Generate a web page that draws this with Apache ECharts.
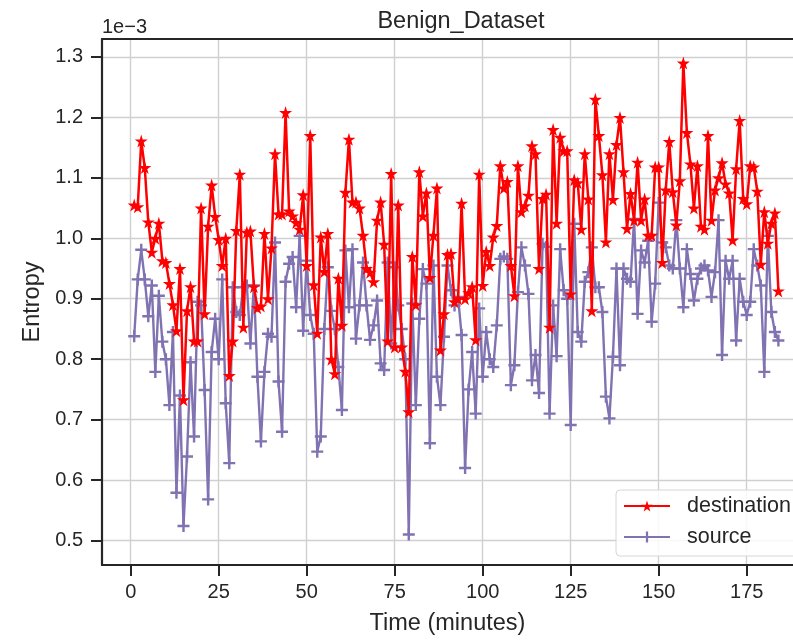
<!DOCTYPE html>
<html>
<head>
<meta charset="utf-8">
<script src="https://cdn.jsdelivr.net/npm/echarts@6/dist/echarts.min.js"></script>
<style>
  html, body { margin: 0; padding: 0; background: #fff; }
  #chart { width: 793px; height: 641px; }
</style>
</head>
<body>
<div id="chart"></div>
<script>
// entropy values, unit 1e-3, one per minute
const destination = [
  1.055, 1.052, 1.161, 1.117, 1.027, 0.977, 1.000, 1.025, 0.963, 0.960,
  0.925, 0.890, 0.847, 0.950, 0.733, 0.880, 0.920, 0.830, 0.830, 1.050,
  0.875, 1.020, 1.088, 1.036, 0.998, 0.955, 1.000, 0.773, 0.830, 1.013,
  1.106, 0.853, 1.010, 1.012, 0.920, 0.885, 0.888, 1.008, 0.900, 0.984,
  1.140, 1.040, 1.040, 1.208, 1.045, 1.037, 1.026, 1.015, 1.072, 0.955,
  1.170, 0.923, 0.843, 1.002, 0.945, 1.008, 0.800, 0.776, 0.934, 0.856,
  1.076, 1.164, 1.060, 1.060, 1.050, 1.005, 0.950, 0.944, 0.928, 1.030,
  1.060, 0.990, 0.830, 1.107, 0.820, 1.055, 0.820, 0.780, 0.713, 0.970,
  0.890, 1.110, 1.037, 1.075, 0.935, 1.005, 1.083, 0.815, 0.875, 0.973,
  0.975, 0.895, 0.900, 1.058, 0.900, 0.910, 0.920, 0.832, 1.106, 0.922,
  0.978, 0.955, 1.002, 1.021, 1.120, 1.083, 1.094, 0.955, 0.905, 1.120,
  1.044, 1.054, 1.071, 1.153, 1.140, 0.950, 1.066, 1.073, 0.853, 1.180,
  1.025, 1.167, 1.145, 1.145, 0.908, 1.097, 1.092, 1.015, 1.140, 1.065,
  0.880, 1.230, 1.170, 1.105, 0.994, 1.140, 1.064, 1.155, 1.200, 1.110,
  1.016, 1.074, 1.030, 1.126, 1.030, 1.065, 1.005, 1.005, 1.118, 1.118,
  0.960, 1.080, 1.160, 1.077, 1.022, 1.095, 1.290, 1.175, 1.123, 1.050,
  1.120, 1.020, 1.015, 1.170, 1.030, 1.080, 1.100, 1.125, 1.090, 1.075,
  0.997, 1.115, 1.195, 1.066, 1.057, 1.120, 1.118, 1.078, 0.957, 1.044,
  0.992, 1.025, 1.042, 0.913
]
const source = [
  0.838, 0.932, 0.981, 0.932, 0.871, 0.922, 0.779, 0.905, 0.829, 0.800,
  0.724, 0.845, 0.579, 0.740, 0.524, 0.639, 0.795, 0.672, 0.895, 0.889,
  0.749, 0.568, 0.812, 0.867, 0.800, 0.932, 0.727, 0.628, 0.919, 0.878,
  0.873, 0.919, 0.922, 0.826, 0.922, 0.771, 0.664, 0.779, 0.842, 0.837,
  0.993, 0.763, 0.680, 0.928, 0.958, 0.969, 0.886, 1.004, 0.847, 0.963,
  0.873, 0.842, 0.647, 0.672, 0.850, 0.952, 0.880, 0.850, 0.787, 0.716,
  0.980, 0.886, 0.982, 0.834, 0.889, 0.960, 0.889, 0.832, 0.856, 0.897,
  0.793, 0.782, 0.960, 0.826, 0.952, 0.889, 0.850, 0.800, 0.510, 0.892,
  0.724, 0.867, 0.949, 0.925, 0.661, 0.955, 0.771, 0.724, 0.837, 0.955,
  0.914, 0.889, 0.903, 0.840, 0.620, 0.750, 0.812, 0.710, 0.884, 0.771,
  0.845, 0.800, 0.787, 0.856, 0.966, 0.970, 0.966, 0.757, 0.790, 0.911,
  0.985, 0.955, 0.908, 0.765, 0.807, 0.744, 0.991, 0.986, 0.710, 0.889,
  0.805, 0.982, 0.914, 0.900, 0.691, 1.024, 0.845, 0.829, 0.928, 0.944,
  0.985, 0.919, 0.919, 0.878, 0.738, 0.702, 0.804, 0.950, 0.790, 0.950,
  0.933, 0.928, 1.032, 0.875, 0.980, 0.960, 0.996, 0.862, 0.925, 1.059,
  0.993, 0.985, 0.955, 0.950, 1.030, 0.950, 0.886, 0.982, 0.941, 0.897,
  0.933, 0.950, 0.955, 0.947, 0.903, 0.944, 1.030, 0.807, 0.963, 0.933,
  0.963, 0.831, 0.933, 0.895, 0.873, 0.895, 0.982, 0.955, 0.922, 0.779,
  1.004, 0.878, 0.845, 0.831
]
const minutes = destination.map((v, i) => i + 1)
const xTicks = [0, 25, 50, 75, 100, 125, 150, 175]
const yTicks = [0.5, 0.6, 0.7, 0.8, 0.9, 1.0, 1.1, 1.2, 1.3]

const STAR = 'path://M50,0 L61,35 L98,35 L68,57 L79,91 L50,70 L21,91 L32,57 L2,35 L39,35 Z'
const PLUS = 'path://M40,0 H60 V40 H100 V60 H60 V100 H40 V60 H0 V40 H40 Z'
const font = "'Liberation Sans', Arial, sans-serif"
const ink = '#262626'
const gridColor = '#d0d0d0'
// the figure is cropped on the right, so the x range stops at the canvas edge
const xMin = -8.15
const xMax = 188.15

const chart = echarts.init(document.getElementById('chart'))
const option = {
  backgroundColor: '#fff',
  animation: false,
  title: {
    text: 'Benign_Dataset',
    left: 456,
    top: 5,
    textAlign: 'center',
    textStyle: { fontFamily: font, fontSize: 23.5, fontWeight: 'normal', color: ink }
  },
  graphic: [{
    type: 'text',
    left: 102,
    top: 17,
    style: { text: '1e\u22123', font: '20px ' + font, fill: ink }
  }],
  legend: {
    orient: 'vertical',
    left: 616,
    top: 490,
    padding: [5, 10, 8, 7],
    itemWidth: 46,
    itemHeight: 14,
    itemGap: 9,
    backgroundColor: 'rgba(255,255,255,0.85)',
    borderColor: '#d6d6d6',
    borderWidth: 1,
    borderRadius: 4,
    textStyle: { fontFamily: font, fontSize: 21.5, lineHeight: 22, color: ink, padding: [0, 0, 0, 12] },
    data: ['destination', 'source']
  },
  grid: {
    left: 102,
    top: 39,
    right: 0,
    bottom: 74
  },
  xAxis: [{
    type: 'value',
    min: xMin,
    max: xMax,
    name: 'Time (minutes)',
    nameLocation: 'middle',
    nameGap: 47,
    nameTextStyle: { fontFamily: font, fontSize: 23.5, color: ink },
    axisLine: { onZero: false, lineStyle: { color: ink, width: 2.2 } },
    axisTick: { length: 11, lineStyle: { color: ink, width: 2 }, customValues: xTicks },
    axisLabel: { fontFamily: font, fontSize: 20, color: ink, margin: 17, customValues: xTicks },
    splitLine: { lineStyle: { color: gridColor, width: 1.4 } }
  }, {
    // top spine
    type: 'value',
    position: 'top',
    min: xMin,
    max: xMax,
    axisLine: { onZero: false, lineStyle: { color: ink, width: 2.2 } },
    axisTick: { show: false },
    axisLabel: { show: false },
    splitLine: { show: false }
  }],
  yAxis: {
    type: 'value',
    min: 0.4595,
    max: 1.3297,
    name: 'Entropy',
    nameLocation: 'middle',
    nameGap: 57,
    nameTextStyle: { fontFamily: font, fontSize: 23.5, color: ink },
    axisLine: { show: true, onZero: false, lineStyle: { color: ink, width: 2.2 } },
    axisTick: { show: true, length: 11, lineStyle: { color: ink, width: 2 }, customValues: yTicks },
    axisLabel: {
      fontFamily: font, fontSize: 20, color: ink, margin: 19, customValues: yTicks,
      formatter: v => v.toFixed(1)
    },
    splitLine: { lineStyle: { color: gridColor, width: 1.4 } }
  },
  series: [
    {
      name: 'destination',
      type: 'line',
      xAxisIndex: 0,
      data: minutes.map((m, i) => [m, destination[i]]),
      symbol: STAR,
      symbolSize: 13,
      showAllSymbol: true,
      color: '#ff0000',
      lineStyle: { width: 2.5, color: '#ff0000' },
      itemStyle: { color: '#ff0000' },
      z: 3
    },
    {
      name: 'source',
      type: 'line',
      xAxisIndex: 0,
      data: minutes.map((m, i) => [m, source[i]]),
      symbol: PLUS,
      symbolSize: 12,
      showAllSymbol: true,
      color: '#8172b2',
      lineStyle: { width: 2.4, color: '#8172b2' },
      itemStyle: { color: '#8172b2' },
      z: 2
    }
  ]
}
chart.setOption(option)
</script>
</body>
</html>
